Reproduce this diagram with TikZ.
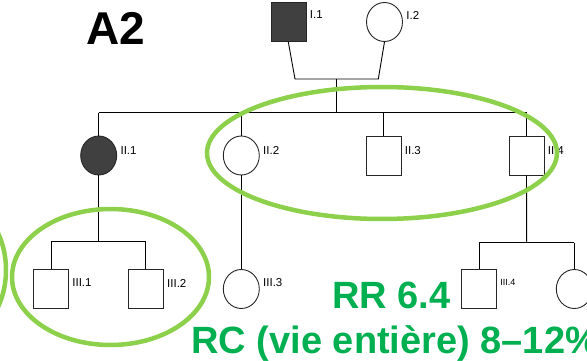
\documentclass[tikz,border=0pt]{standalone}
\usepackage{fontspec}
\setmainfont{Liberation Sans}
\usetikzlibrary{shapes.geometric}
\definecolor{affected}{HTML}{404040}
\definecolor{ringgreen}{HTML}{8DD04B}
\definecolor{textgreen}{HTML}{00B050}
\tikzset{
  male/.style={draw=black!85,line width=0.9pt,rectangle,inner sep=0pt,minimum width=35pt,minimum height=39pt},
  female/.style={draw=black!85,line width=0.9pt,ellipse,inner sep=0pt,minimum width=36pt,minimum height=39pt},
  aff/.style={fill=affected},
  lbl/.style={anchor=west,inner sep=0pt,font=\fontsize{11.5}{12}\selectfont},
  ring/.style={draw=ringgreen,line width=4.5pt},
  bigtxt/.style={anchor=base west,inner sep=0pt,font=\bfseries\fontsize{38}{42}\selectfont,text=textgreen}
}
\begin{document}
\begin{tikzpicture}[x=1pt,y=-1pt,line width=0.9pt]
  \useasboundingbox (0,0) rectangle (587,361);
  \clip (0,0) rectangle (587,361);
  % generation I
  \node[male,aff] (I1) at (288.5,22) {};
  \node[female] (I2) at (384.5,22) {};
  % generation II
  \node[female,aff] (II1) at (98.7,155.5) {};
  \node[female] (II2) at (241.3,155.5) {};
  \node[male] (II3) at (383.5,155.5) {};
  \node[male] (II4) at (526.5,155.5) {};
  % generation III
  \node[male] (III1) at (51,289) {};
  \node[male] (III2) at (145.8,289) {};
  \node[female] (III3) at (241.3,289) {};
  \node[male] (III4) at (479,289) {};
  \node[female] (III5) at (574.3,289) {};
  % couple and sibships
  \coordinate (m1) at (295,79);
  \coordinate (m2) at (378.3,79);
  \coordinate (d1) at (336.7,79);
  \coordinate (s1) at (336.7,112.7);
  \coordinate (s2) at (98.7,241.7);
  \coordinate (s3) at (526.7,242.7);
  \draw (I1.south) ++(-0.2,0) -- (m1) -- (m2) -- (I2.south);
  \draw (d1) -- (s1);
  \draw (II1.north |- s1) -- (II4.north |- s1);
  \foreach \n in {II1,II2,II3,II4}
    \draw (\n.north |- s1) -- (\n.north);
  \draw (II1.south) -- (s2);
  \draw (III1.north |- s2) -- (III2.north |- s2);
  \foreach \n in {III1,III2} \draw (\n.north |- s2) -- (\n.north);
  \draw (II2.south) -- (III3.north);
  \draw (II4.south) -- (s3);
  \draw (III4.north |- s3) -- (III5.north |- s3);
  \foreach \n in {III4,III5} \draw (\n.north |- s3) -- (\n.north);
  % labels
  \foreach \n/\t/\dy in {I1/I.1/7,I2/I.2/7,II1/II.1/5,II2/II.2/5,II3/II.3/5,II4/II.4/5,
                         III1/III.1/6,III2/III.2/6,III3/III.3/6}
    \node[lbl] at ([xshift=3pt,yshift=\dy pt]\n.east) {\t};
  \node[lbl,font=\fontsize{9}{10}\selectfont] at ([xshift=3pt,yshift=6.5pt]III4.east) {III.4};
  % rings
  \draw[ring] (382,153) ellipse [x radius=175pt,y radius=66pt];
  \draw[ring] (110.5,277) ellipse [x radius=98.5pt,y radius=68pt];
  \draw[ring] (-44,270) ellipse [x radius=50pt,y radius=68pt];
  % texts
  \node[anchor=base west,inner sep=0pt,font=\bfseries\fontsize{46}{50}\selectfont] (title) at (86,45) {A2};
  \node[bigtxt] (rr) at (332,308) {RR 6.4};
  \node[bigtxt] (rc) at (191,353) {RC (vie entière) 8–12\%};
\end{tikzpicture}
\end{document}
